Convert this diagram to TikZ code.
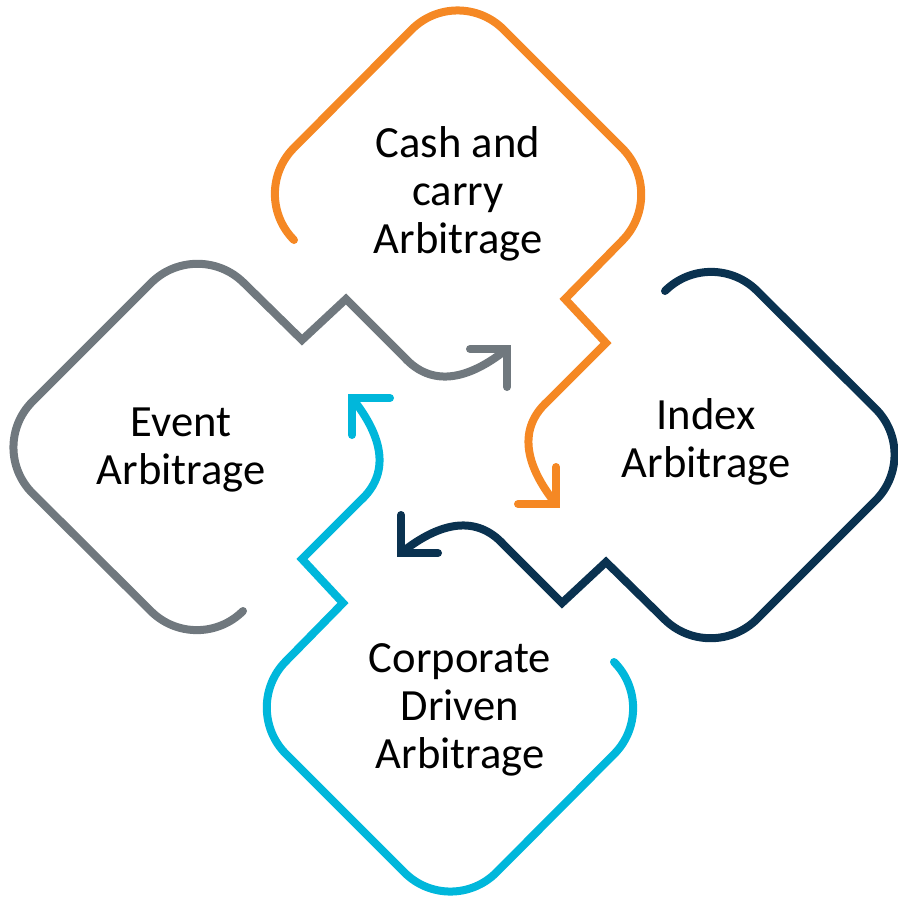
\documentclass[tikz,border=0pt]{standalone}
\usepackage{fontspec}
\setmainfont{Carlito}
\usepackage{tikz}
\usetikzlibrary{calc}

\definecolor{cashorange}{RGB}{245,136,36}
\definecolor{indexnavy}{RGB}{10,50,80}
\definecolor{corpcyan}{RGB}{0,183,219}
\definecolor{eventgray}{RGB}{112,120,126}

\tikzset{
  loopline/.style={line width=8pt,line cap=round},
  lbl/.style={align=center,inner sep=0pt,font=\fontsize{44.6}{48}\selectfont}
}

\begin{document}
\begin{tikzpicture}[x=1pt,y=-1pt]
\useasboundingbox (0,0) rectangle (897,899);
\coordinate (mid) at (454,451);
% one loop, turned four times round the middle
\foreach \ang/\col in {0/cashorange,-90/indexnavy,180/corpcyan,90/eventgray}{
  \begin{scope}[rotate around={\ang:(mid)}]
  \draw[loopline,\col] (294,240) [rounded corners=65pt] -- (248,194) -- (457.5,-16.5) -- (668,194)
    [sharp corners] -- (565,299) -- (606,343) -- (548,401) .. controls (518,428) and (524,464) .. (556,504);
  \draw[loopline,\col] (518,504) -- (556,504) -- (556,467);
  \end{scope}
}
\node[lbl] (cash) at (458,194) {Cash and\\carry\\Arbitrage};
\node[lbl] (index) at (706,442) {Index\\Arbitrage};
\node[lbl] (event) at (181,450) {Event\\Arbitrage};
\node[lbl] (corp) at (460,710) {Corporate\\Driven\\Arbitrage};
\end{tikzpicture}
\end{document}
